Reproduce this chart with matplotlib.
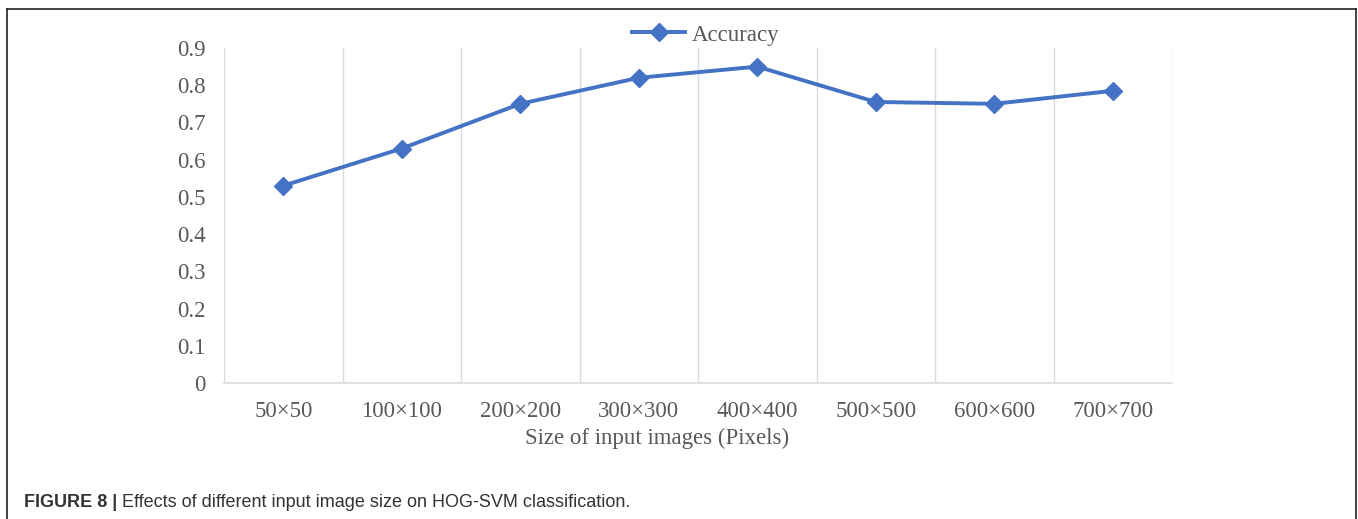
import matplotlib.pyplot as plt
from matplotlib.lines import Line2D

# image sizes tested and HOG-SVM accuracy for each
sizes = ['50×50', '100×100', '200×200', '300×300', '400×400', '500×500', '600×600', '700×700']
accuracy = [0.53, 0.63, 0.75, 0.82, 0.85, 0.755, 0.75, 0.785]
yticks = [0, 0.1, 0.2, 0.3, 0.4, 0.5, 0.6, 0.7, 0.8, 0.9]

blue = '#4472C4'
grey_text = '#595959'
grid_col = '#dadada'

W, H = 1358, 519
fig = plt.figure(figsize=(W / 100, H / 100), dpi=100)
ax = fig.add_axes([224 / W, 1 - 383 / H, (1172 - 224) / W, (383 - 48) / H])

x = list(range(len(sizes)))
ax.plot(x, accuracy, color=blue, lw=2.8, marker='D', markersize=9.5,
        markeredgecolor=blue, label='Accuracy', zorder=3)

ax.set_xlim(-0.5, len(sizes) - 0.5)
ax.set_ylim(0, 0.9)

# vertical separators between categories
for b in range(len(sizes) + 1):
    ax.axvline(b - 0.5, color=grid_col, lw=1.0, zorder=1)

for s in ['top', 'right', 'left']:
    ax.spines[s].set_visible(False)
ax.spines['bottom'].set_color(grid_col)
ax.spines['bottom'].set_linewidth(1.2)

serif = 'Liberation Serif'
ax.set_yticks(yticks)
ax.set_yticklabels(['0' if v == 0 else f'{v:.1f}' for v in yticks],
                   fontfamily=serif, fontsize=16.5, color=grey_text)
ax.set_xticks(x)
ax.set_xticklabels(sizes, fontfamily=serif, fontsize=16.5, color=grey_text)
ax.tick_params(axis='both', length=0)
ax.tick_params(axis='y', pad=13)
ax.tick_params(axis='x', pad=13)
ax.set_xlabel('Size of input images (Pixels)', fontfamily=serif, fontsize=16.5,
              color=grey_text)
ax.xaxis.set_label_coords((657 - 224) / (1172 - 224), -0.135)

leg = fig.legend(handles=[Line2D([], [], color=blue, lw=2.8, marker='D', markersize=9.5)],
                 labels=['Accuracy'], loc='center', bbox_to_anchor=(706 / W, 1 - 35 / H),
                 frameon=False, handlelength=2.3, handletextpad=0.3,
                 prop={'family': serif, 'size': 16.5})
for t in leg.get_texts():
    t.set_color(grey_text)

# frame around the figure panel
frame_kw = dict(color='#222222', lw=1.2, transform=fig.transFigure)
fig.add_artist(Line2D([7 / W, 7 / W], [0, 1 - 9 / H], **frame_kw))
fig.add_artist(Line2D([7 / W, 1356 / W], [1 - 9 / H, 1 - 9 / H], **frame_kw))
fig.add_artist(Line2D([1356 / W, 1356 / W], [0, 1 - 9 / H], **frame_kw))

# caption
cap_col = '#333333'
cap = fig.text(24 / W, 1 - 507 / H, 'FIGURE 8 |', fontfamily='Liberation Sans',
               fontweight='bold', fontsize=13, color=cap_col, va='baseline')
plt.annotate(' Effects of different input image size on HOG-SVM classification.',
             xy=(1, 0), xycoords=cap, va='bottom', ha='left',
             fontfamily='Liberation Sans', fontsize=13, color=cap_col,
             annotation_clip=False)

fig.savefig('out.png', dpi=100)
